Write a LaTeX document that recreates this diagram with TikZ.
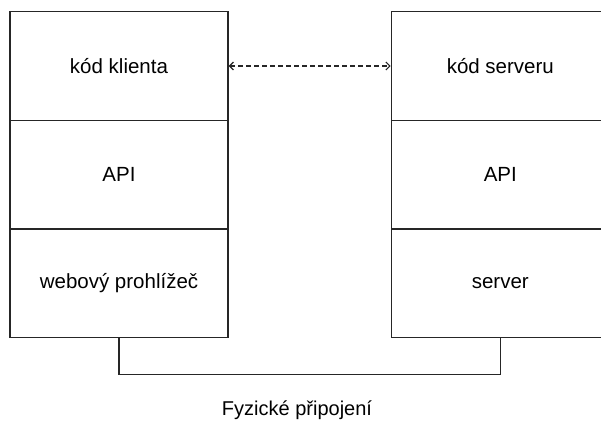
\documentclass[tikz,border=0pt]{standalone}
\usepackage{fontspec}
\setmainfont{Liberation Sans}
\usetikzlibrary{arrows.meta}
\begin{document}
\begin{tikzpicture}[x=1pt,y=-1pt,
  layer/.style={draw=black!85, line width=1.2pt, minimum width=218pt,
    minimum height=108.7pt, inner sep=0pt, font=\fontsize{20.5}{24}\selectfont,
    text=black},
  link/.style={draw=black!85, line width=1.2pt},
  lbl/.style={font=\fontsize{20}{24}\selectfont, text=black}]
  \useasboundingbox (0,0) rectangle (601,423);
  % client stack
  \node[layer] (kk) at (119,66) {kód klienta};
  \node[layer] (kapi) at (119,174.7) {API};
  \node[layer] (wp) at (119,283.4) {webový prohlížeč};
  % server stack
  \node[layer] (ks) at (500.3,66) {kód serveru};
  \node[layer] (sapi) at (500.3,174.7) {API};
  \node[layer] (srv) at (500.3,283.4) {server};
  % logical link between the code layers
  \draw[link, dash pattern=on 4.5pt off 3.5pt,
    {Straight Barb[length=4pt,width=8pt]}-{Straight Barb[length=4pt,width=8pt]}]
    (kk.east) -- (ks.west);
  % physical link
  \draw[link] (wp.south) -- ++(0,36) -| (srv.south);
  \node[lbl] (phys) at (297,410) {Fyzické připojení};
\end{tikzpicture}
\end{document}
